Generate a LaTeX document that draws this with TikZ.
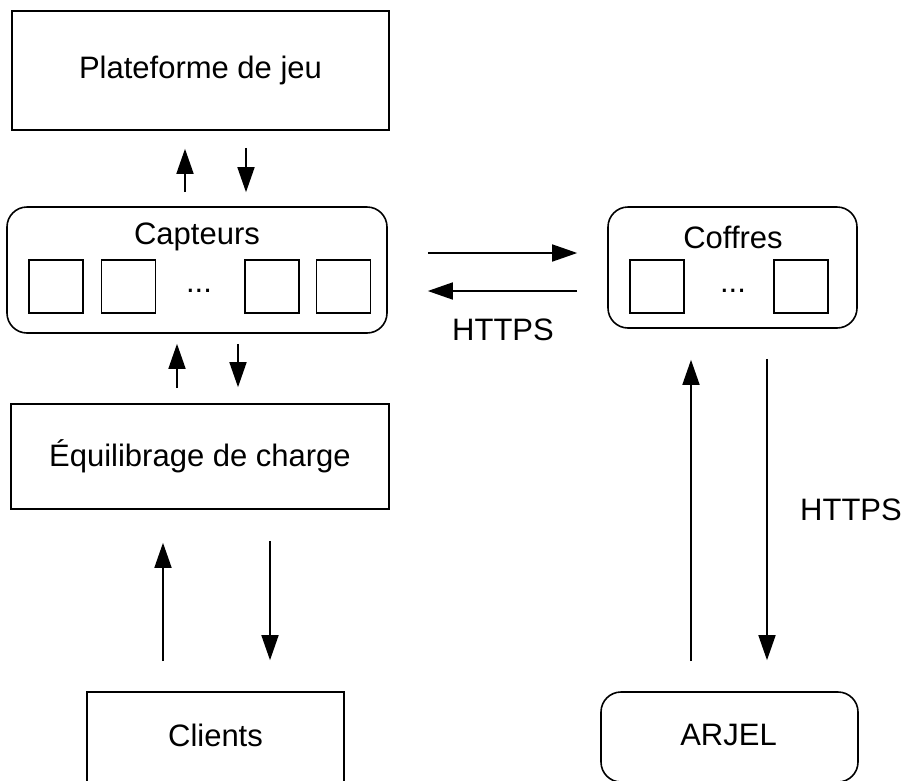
\documentclass[tikz,border=0pt]{standalone}
\usepackage{fontspec}
\setmainfont{Liberation Sans}
\usetikzlibrary{arrows.meta,calc}
\begin{document}
\begin{tikzpicture}[x=1pt,y=-1pt,
  every node/.style={font=\fontsize{31}{36}\selectfont, inner sep=0pt},
  box/.style={draw, line width=1.6pt, rectangle},
  rbox/.style={draw, line width=1.6pt, rectangle, rounded corners=20pt},
  sq/.style={draw, line width=1.6pt, rectangle, minimum width=54pt, minimum height=53pt},
  arr/.style={line width=1.6pt, -{Triangle[length=25pt,width=17pt]}}]
\useasboundingbox (0,0) rectangle (905,780);
% boxes
\node[box, minimum width=377pt, minimum height=119pt] (plat) at (200.5,70.5) {Plateforme de jeu};
\node[rbox, minimum width=380pt, minimum height=126pt] (capt) at (197,270) {};
\node (captlbl) at (197,237) {Capteurs};
\node[sq] (s1) at (56,286.5) {};
\node[sq] (s2) at (128.5,286.5) {};
\node[sq] (s3) at (272,286.5) {};
\node[sq] (s4) at (343.5,286.5) {};
\node[anchor=base] (cdots) at (199,292) {...};
\node[rbox, minimum width=249pt, minimum height=121pt] (coff) at (732.5,267.5) {};
\node (cofflbl) at (733,237) {Coffres};
\node[sq] (c1) at (657,286.5) {};
\node[sq] (c2) at (801,286.5) {};
\node[anchor=base] (fdots) at (733,292) {...};
\node[box, minimum width=378pt, minimum height=105pt] (equi) at (200,456.5) {Équilibrage de charge};
\node[box, minimum width=257pt, minimum height=90pt] (clients) at (215.5,737) {};
\node (clientslbl) at (215.5,735) {Clients};
\node[rbox, minimum width=257pt, minimum height=90pt] (arjel) at (729.5,737) {};
\node (arjellbl) at (728.5,735) {ARJEL};
\node (https1) at (503,330) {HTTPS};
\node (https2) at (851,510) {HTTPS};
% arrows
\draw[arr] ($(capt.north)+(-12,-14)$) -- ($(plat.south)+(-15.5,18)$);
\draw[arr] ($(plat.south)+(45.5,17)$) -- ($(capt.north)+(49,-14)$);
\draw[arr] ($(equi.north)+(-23,-15)$) -- ($(capt.south)+(-20,10)$);
\draw[arr] ($(capt.south)+(41,10)$) -- ($(equi.north)+(38,-16)$);
\draw[arr] ($(capt.east)+(40,-17)$) -- ($(coff.west)+(-30,-14.5)$);
\draw[arr] ($(coff.west)+(-30,23.5)$) -- ($(capt.east)+(40,21)$);
\draw[arr] ($(clients.north)+(-52.5,-30)$) -- ($(equi.south)+(-37,33)$);
\draw[arr] ($(equi.south)+(70,31)$) -- ($(clients.north)+(54.5,-31)$);
\draw[arr] ($(arjel.north)+(-38.5,-30)$) -- ($(coff.south)+(-41.5,31)$);
\draw[arr] ($(coff.south)+(34.5,30)$) -- ($(arjel.north)+(37.5,-31)$);
\end{tikzpicture}
\end{document}
